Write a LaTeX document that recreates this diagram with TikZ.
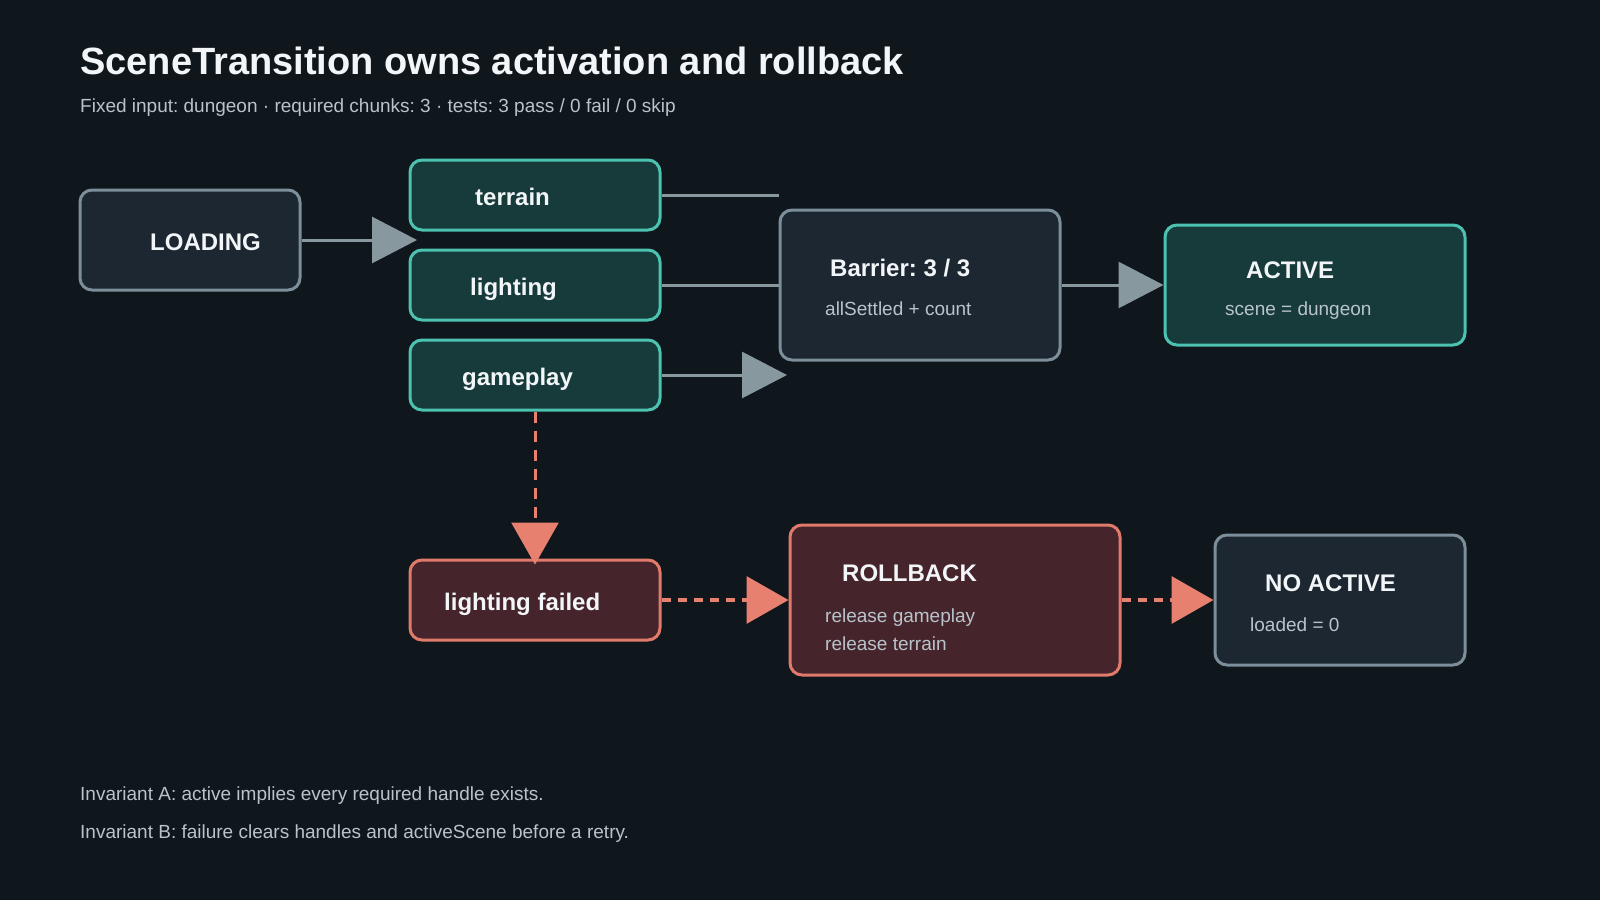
\documentclass[tikz,border=0pt]{standalone}
\usepackage{fontspec}
\setmainfont{Liberation Sans}
\frenchspacing
\usetikzlibrary{arrows.meta}
\definecolor{bg}{HTML}{0F161C}
\definecolor{darkfill}{HTML}{1C2731}
\definecolor{darkline}{HTML}{7B8E99}
\definecolor{tealfill}{HTML}{173B3B}
\definecolor{tealline}{HTML}{4CC2B0}
\definecolor{redfill}{HTML}{45252B}
\definecolor{redline}{HTML}{E07B6C}
\definecolor{grayarrow}{HTML}{87989F}
\definecolor{orangearrow}{HTML}{E8806F}
\definecolor{whitetext}{HTML}{F3F6F8}
\definecolor{subtext}{HTML}{B9C3CB}
\tikzset{
  box/.style={rectangle, rounded corners=12pt, line width=3pt, inner sep=0pt},
  darkbox/.style={box, fill=darkfill, draw=darkline},
  tealbox/.style={box, fill=tealfill, draw=tealline},
  redbox/.style={box, fill=redfill, draw=redline},
  boldlbl/.style={inner sep=0pt, anchor=west, text=whitetext, font=\bfseries\fontsize{24}{28}\selectfont, text height=17pt, text depth=0pt},
  smalllbl/.style={inner sep=0pt, anchor=west, text=subtext, font=\fontsize{19}{23}\selectfont, text height=13.6pt, text depth=0pt},
  grayconn/.style={line width=3pt, draw=grayarrow},
  grayarr/.style={grayconn, -{Triangle[length=45pt,width=46pt]}},
  redarr/.style={line width=3.5pt, draw=orangearrow, dash pattern=on 9pt off 7pt, -{Triangle[length=42pt,width=47pt]}},
}
\begin{document}
\begin{tikzpicture}[x=1pt,y=-1pt]
\fill[bg] (0,0) rectangle (1600,900);
\useasboundingbox (0,0) rectangle (1600,900);

% title
\node[inner sep=0pt, anchor=west, text=whitetext, font=\bfseries\fontsize{38}{44}\selectfont, text height=27pt, text depth=0pt] (title) at (80,61) {SceneTransition owns activation and rollback};
\node[smalllbl] (subtitle) at (80,106) {Fixed input: dungeon · required chunks: 3 · tests: 3 pass / 0 fail / 0 skip};

% boxes
\node[darkbox, minimum width=220pt, minimum height=100pt] (load) at (190,240) {};
\node[tealbox, minimum width=250pt, minimum height=70pt] (ter) at (535,195) {};
\node[tealbox, minimum width=250pt, minimum height=70pt] (lig) at (535,285) {};
\node[tealbox, minimum width=250pt, minimum height=70pt] (gam) at (535,375) {};
\node[darkbox, minimum width=280pt, minimum height=150pt] (bar) at (920,285) {};
\node[tealbox, minimum width=300pt, minimum height=120pt] (act) at (1315,285) {};
\node[redbox, minimum width=250pt, minimum height=80pt] (fail) at (535,600) {};
\node[redbox, minimum width=330pt, minimum height=150pt] (roll) at (955,600) {};
\node[darkbox, minimum width=250pt, minimum height=130pt] (noact) at (1340,600) {};

% labels
\node[boldlbl] (loadt) at (150,242) {LOADING};
\node[boldlbl] (tert) at (475,197) {terrain};
\node[boldlbl] (ligt) at (470,287) {lighting};
\node[boldlbl] (gamt) at (462,377) {gameplay};
\node[boldlbl] (bart) at (830,268) {Barrier: 3 / 3};
\node[smalllbl] (bars) at (825,309) {allSettled + count};
\node[boldlbl] (actt) at (1246,270) {ACTIVE};
\node[smalllbl] (acts) at (1225,309) {scene = dungeon};
\node[boldlbl] (failt) at (444,602) {lighting failed};
\node[boldlbl] (rollt) at (842,573) {ROLLBACK};
\node[smalllbl] (rolls1) at (825,616) {release gameplay};
\node[smalllbl] (rolls2) at (825,644) {release terrain};
\node[boldlbl] (noactt) at (1265,583) {NO ACTIVE};
\node[smalllbl] (noacts) at (1250,625) {loaded = 0};

% invariants
\node[smalllbl] (invA) at (80,794) {Invariant A: active implies every required handle exists.};
\node[smalllbl] (invB) at (80,832) {Invariant B: failure clears handles and activeScene before a retry.};

% connectors
\coordinate (loadtip) at (417,240);
\coordinate (gamtip) at (787,375);
\draw[grayarr] (load.east) -- (loadtip);
\draw[grayconn] (ter.east) -- (ter.east -| bar.west);
\draw[grayconn] (lig.east) -- (bar.west);
\draw[grayarr] (gam.east) -- (gamtip);
\draw[grayarr] (bar.east) -- (act.west);
\draw[redarr, line width=3pt, dash pattern=on 11pt off 8pt, shorten >=-6pt] (gam.south) -- (fail.north);
\draw[redarr] (fail.east) -- (roll.west);
\draw[redarr] (roll.east) -- (noact.west);
\end{tikzpicture}
\end{document}
